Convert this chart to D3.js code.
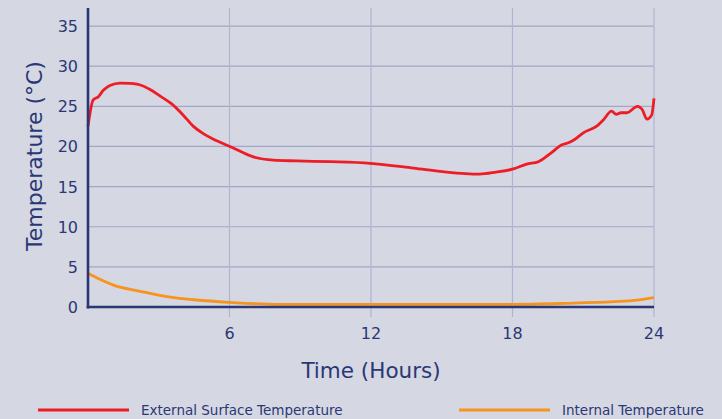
<!DOCTYPE html>
<html>
<head>
<meta charset="utf-8">
<script src="https://cdn.jsdelivr.net/npm/d3@7"></script>
<style>
  body { margin: 0; background: #d5d7e3; }
  svg { display: block; font-family: "DejaVu Sans", Verdana, sans-serif; }
</style>
</head>
<body>
<div id="chart"></div>
<script>
// hours and temperatures
const extHours = [0, 0.22, 0.44, 0.65, 0.93, 1.36, 1.78, 2.28, 2.63, 3.05, 3.55, 4.04, 4.47, 4.89, 5.46, 6.09, 7.01, 7.86, 8.85, 10.26, 11.96, 13.8, 15.2, 16.6, 17.3, 18.04, 18.6, 19.1, 19.6, 20.1, 20.4, 20.65, 21.0, 21.6, 21.85, 22.2, 22.4, 22.6, 22.85, 23.3, 23.5, 23.7, 23.9, 24.0];
const extTemps = [22.5, 25.8, 26.2, 27.0, 27.6, 27.9, 27.85, 27.6, 27.1, 26.3, 25.3, 23.9, 22.5, 21.6, 20.7, 19.9, 18.7, 18.3, 18.2, 18.1, 17.9, 17.3, 16.8, 16.55, 16.8, 17.2, 17.8, 18.1, 19.1, 20.2, 20.5, 20.9, 21.7, 22.6, 23.3, 24.4, 24.0, 24.2, 24.2, 25.0, 24.6, 23.4, 23.9, 26.0];

const intHours = [0, 0.5, 1.2, 2.07, 3.34, 4.6, 6.0, 8.1, 10.3, 14, 18, 20.2, 22.3, 23.3, 24];
const intTemps = [4.2, 3.45, 2.6, 2.05, 1.3, 0.87, 0.58, 0.33, 0.33, 0.33, 0.33, 0.45, 0.66, 0.87, 1.16];

const xTicks = [6, 12, 18, 24];
const yTicks = [0, 5, 10, 15, 20, 25, 30, 35];
const seriesNames = ["External Surface Temperature", "Internal Temperature"];
const seriesColors = ["#ee1c25", "#f7941d"];

const width = 722, height = 419;
const navy = "#2b3775";

const svg = d3.select("#chart").append("svg")
    .attr("width", width)
    .attr("height", height);

svg.append("rect").attr("width", width).attr("height", height).attr("fill", "#d5d7e3");

const x = d3.scaleLinear().domain([0, 24]).range([88, 654]);
const y = d3.scaleLinear().domain([0, 37.25]).range([307, 8]);

// grid
svg.append("g").selectAll("line")
    .data(yTicks.filter(d => d > 0))
    .enter().append("line")
    .attr("x1", x(0)).attr("x2", x(24))
    .attr("y1", d => y(d)).attr("y2", d => y(d))
    .attr("stroke", "#a3a7c6").attr("stroke-width", 1.2);

svg.append("g").selectAll("line")
    .data(xTicks)
    .enter().append("line")
    .attr("x1", d => x(d)).attr("x2", d => x(d))
    .attr("y1", y(37.25)).attr("y2", y(0) + 10)
    .attr("stroke", "#b0b4d0").attr("stroke-width", 1.2);

// tick labels
svg.append("g").selectAll("text")
    .data(yTicks)
    .enter().append("text")
    .attr("x", 78).attr("y", d => y(d) + 6)
    .attr("text-anchor", "end")
    .attr("font-size", 16).attr("fill", navy)
    .text(d => d);

svg.append("g").selectAll("text")
    .data(xTicks)
    .enter().append("text")
    .attr("x", d => x(d)).attr("y", 339)
    .attr("text-anchor", "middle")
    .attr("font-size", 16).attr("fill", navy)
    .text(d => d);

// lines
const line = d3.line()
    .x(d => x(d[0]))
    .y(d => y(d[1]))
    .curve(d3.curveMonotoneX);

svg.append("path")
    .datum(intHours.map((h, i) => [h, intTemps[i]]))
    .attr("d", line)
    .attr("fill", "none").attr("stroke", seriesColors[1]).attr("stroke-width", 2.8);

svg.append("path")
    .datum(extHours.map((h, i) => [h, extTemps[i]]))
    .attr("d", line)
    .attr("fill", "none").attr("stroke", seriesColors[0]).attr("stroke-width", 2.8);

// axes
svg.append("line")
    .attr("x1", x(0)).attr("x2", x(0))
    .attr("y1", y(37.25)).attr("y2", y(0) + 1.5)
    .attr("stroke", navy).attr("stroke-width", 2.6);
svg.append("line")
    .attr("x1", x(0) - 1.3).attr("x2", x(24))
    .attr("y1", y(0)).attr("y2", y(0))
    .attr("stroke", navy).attr("stroke-width", 2.6);

// axis titles
svg.append("text")
    .attr("x", 371).attr("y", 378)
    .attr("text-anchor", "middle")
    .attr("font-size", 21.5).attr("fill", navy)
    .text("Time (Hours)");

svg.append("text")
    .attr("transform", "translate(42,156) rotate(-90)")
    .attr("text-anchor", "middle")
    .attr("font-size", 22).attr("fill", navy)
    .text("Temperature (°C)");

// legend
const legend = svg.append("g").selectAll("g")
    .data(seriesNames)
    .enter().append("g")
    .attr("transform", (d, i) => `translate(${i === 0 ? 38 : 459},410)`);

legend.append("line")
    .attr("x1", 0).attr("x2", 91)
    .attr("stroke", (d, i) => seriesColors[i]).attr("stroke-width", 3);

legend.append("text")
    .attr("x", 103).attr("y", 5)
    .attr("font-size", 13.5).attr("fill", navy)
    .text(d => d);
</script>
</body>
</html>
